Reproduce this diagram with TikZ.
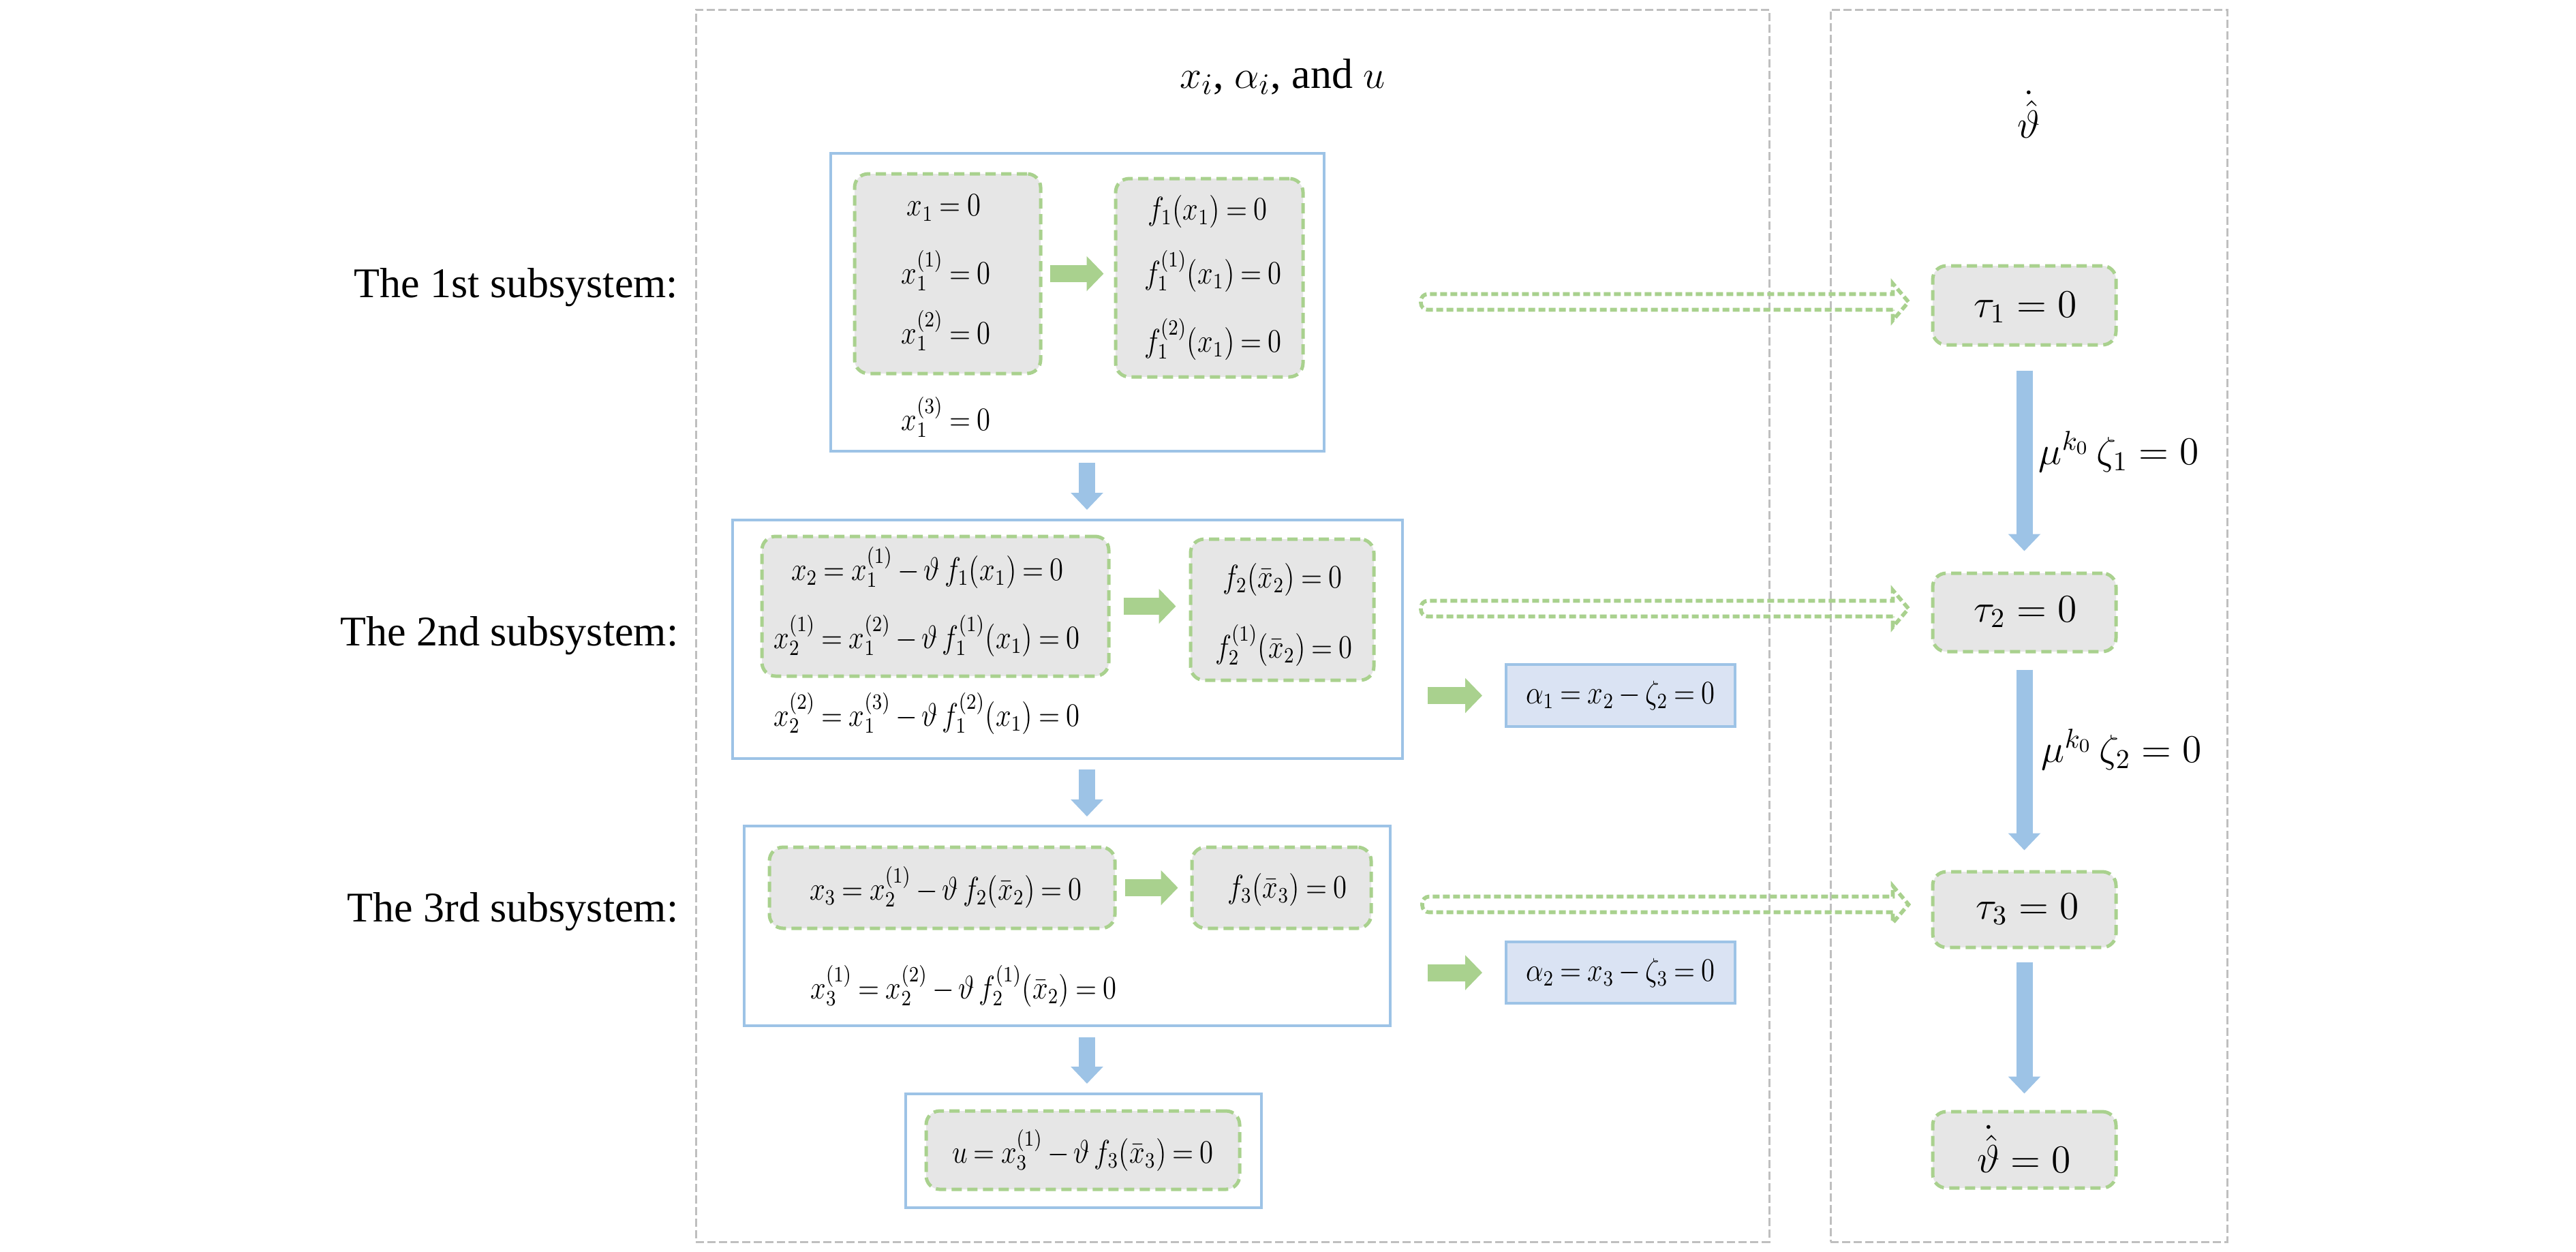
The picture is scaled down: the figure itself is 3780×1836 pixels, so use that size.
\documentclass[tikz,border=0pt]{standalone}
\usepackage{fontspec}
\usepackage{graphicx}
\setmainfont{Liberation Serif}
\usetikzlibrary{arrows.meta,calc,fit}
\definecolor{panelgray}{HTML}{BFBFBF}
\definecolor{boxblue}{HTML}{9DC3E6}
\definecolor{dgreen}{HTML}{A9D18E}
\definecolor{boxgray}{HTML}{E6E6E6}
\definecolor{alphablue}{HTML}{DAE3F3}
\newcommand\eqn[1]{\scalebox{0.85}[1]{$\thickmuskip=4mu\medmuskip=3mu #1$}}
\newcommand\hollowarrow[2]{%
  \draw[dasharrow] let \p1=(#1), \p2=(#2) in
    [rounded corners=2.5pt] (\x2-5.75pt,\y1-2.875pt) -- (\x1,\y1-2.875pt) -- (\x1,\y1+2.875pt)
    [sharp corners] -- (\x2-5.75pt,\y1+2.875pt) -- (\x2-5.75pt,\y1+6.75pt) -- (\x2,\y1)
    -- (\x2-5.75pt,\y1-6.75pt) -- cycle;}
\begin{document}
\begin{tikzpicture}[x=0.25pt,y=-0.25pt,
  panel/.style={draw=panelgray, line width=0.75pt, dash pattern=on 3pt off 1.25pt, inner sep=0pt},
  bluebox/.style={draw=boxblue, line width=1pt, inner sep=0pt},
  alphabox/.style={bluebox, fill=alphablue},
  graybox/.style={draw=dgreen, fill=boxgray, line width=1.25pt, dash pattern=on 3.75pt off 2pt, rounded corners=5pt, inner sep=0pt},
  garrow/.style={draw=dgreen, line width=6.25pt, -{Triangle[width=12.5pt,length=6.25pt]}},
  barrow/.style={draw=boxblue, line width=6pt, -{Triangle[width=11.5pt,length=6.25pt]}},
  dasharrow/.style={draw=dgreen, line width=1.4pt, dash pattern=on 2.5pt off 1.25pt},
  eqs/.style={font=\fontsize{11.5}{14}\selectfont, inner sep=0pt},
  eqb/.style={font=\fontsize{14}{17}\selectfont, inner sep=0pt},
  lab/.style={font=\fontsize{15.5}{18}\selectfont, inner sep=0pt}]
\useasboundingbox (0,0) rectangle (3780,1836);
\fill[white] (0,0) rectangle (3780,1836);

% panels
\node[panel, fit={(1021,14) (2596,1822)}] (lp) {};
\node[panel, fit={(2686,14) (3268,1822)}] (rp) {};
\node[lab] (title) at (1882,113) {$x_i$, $\alpha_i$, and $u$};
\node[lab] (thdot) at (2977,168) {$\dot{\hat{\vartheta}}$};

% left labels
\node[lab, anchor=east] (l1) at (996,422) {The 1st subsystem:};
\node[lab, anchor=east] (l2) at (996,933) {The 2nd subsystem:};
\node[lab, anchor=east] (l3) at (996,1338) {The 3rd subsystem:};

% subsystem 1
\node[bluebox, fit={(1219,225) (1943,662)}] (b1) {};
\node[graybox, fit={(1254,255) (1527,548)}] (g1a) {};
\node[graybox, fit={(1637,262) (1912,553)}] (g1b) {};
\node[eqs] (t1a) at (1385,305) {\eqn{x_1 = 0}};
\node[eqs] (t1b) at (1388,397) {\eqn{x_1^{(1)} = 0}};
\node[eqs] (t1c) at (1388,485) {\eqn{x_1^{(2)} = 0}};
\node[eqs] (t1d) at (1388,612) {\eqn{x_1^{(3)} = 0}};
\node[eqs] (t1e) at (1772,310) {\eqn{f_1(x_1) = 0}};
\node[eqs] (t1f) at (1780,398) {\eqn{f_1^{(1)}(x_1) = 0}};
\node[eqs] (t1g) at (1780,498) {\eqn{f_1^{(2)}(x_1) = 0}};
\draw[garrow, shorten <=2.75pt, shorten >=3.75pt] (g1a.east) -- (g1a.east -| g1b.west);

% subsystem 2
\node[bluebox, fit={(1075,763) (2058,1113)}] (b2) {};
\node[graybox, fit={(1118,787) (1627,992)}] (g2a) {};
\node[graybox, fit={(1747,791) (2016,998)}] (g2b) {};
\node[eqs] (t2a) at (1361,833) {\eqn{x_2 = x_1^{(1)} - \vartheta\, f_1(x_1) = 0}};
\node[eqs] (t2b) at (1360,933) {\eqn{x_2^{(1)} = x_1^{(2)} - \vartheta\, f_1^{(1)}(x_1) = 0}};
\node[eqs] (t2c) at (1360,1047) {\eqn{x_2^{(2)} = x_1^{(3)} - \vartheta\, f_1^{(2)}(x_1) = 0}};
\node[eqs] (t2d) at (1882,850) {\eqn{f_2(\bar{x}_2) = 0}};
\node[eqs] (t2e) at (1884,947) {\eqn{f_2^{(1)}(\bar{x}_2) = 0}};
\draw[garrow, shorten <=4.75pt, shorten >=4.75pt] (g2a.east) -- (g2a.east -| g2b.west);
\node[alphabox, fit={(2210,975) (2546,1066)}] (al1) {};
\node[eqs] (t2f) at (al1.center) {\eqn{\alpha_1 = x_2 - \zeta_2 = 0}};
\draw[garrow, shorten <=8.75pt, shorten >=8.25pt] (al1.west -| b2.east) -- (al1.west);

% subsystem 3
\node[bluebox, fit={(1092,1212) (2040,1505)}] (b3) {};
\node[graybox, fit={(1129,1243) (1636,1362)}] (g3a) {};
\node[graybox, fit={(1749,1243) (2012,1362)}] (g3b) {};
\node[eqs] (t3a) at (1388,1302) {\eqn{x_3 = x_2^{(1)} - \vartheta\, f_2(\bar{x}_2) = 0}};
\node[eqs] (t3b) at (1889,1305) {\eqn{f_3(\bar{x}_3) = 0}};
\node[eqs] (t3c) at (1414,1447) {\eqn{x_3^{(1)} = x_2^{(2)} - \vartheta\, f_2^{(1)}(\bar{x}_2) = 0}};
\draw[garrow, shorten <=3pt, shorten >=4.5pt] (g3a.east) -- (g3a.east -| g3b.west);
\node[alphabox, fit={(2210,1382) (2546,1472)}] (al2) {};
\node[eqs] (t3d) at (al2.center) {\eqn{\alpha_2 = x_3 - \zeta_3 = 0}};
\draw[garrow, shorten <=13.25pt, shorten >=8.25pt] (al2.west -| b3.east) -- (al2.west);

% control u
\node[bluebox, fit={(1329,1605) (1851,1772)}] (bu) {};
\node[graybox, fit={(1359,1630) (1819,1745)}] (gu) {};
\node[eqs] (tu) at (1589,1688) {\eqn{u = x_3^{(1)} - \vartheta\, f_3(\bar{x}_3) = 0}};

% down arrows (left)
\coordinate (ax) at (1595,0);
\draw[barrow, shorten <=3.75pt, shorten >=3.25pt] (b1.south -| ax) -- (b2.north -| ax);
\draw[barrow, shorten <=3.5pt, shorten >=3pt] (b2.south -| ax) -- (b3.north -| ax);
\draw[barrow, shorten <=3.75pt, shorten >=3.25pt] (b3.south -| ax) -- (bu.north -| ax);

% right column
\node[graybox, fit={(2836,390) (3105,506)}] (tau1) {};
\node[graybox, fit={(2836,841) (3105,956)}] (tau2) {};
\node[graybox, fit={(2836,1279) (3105,1390)}] (tau3) {};
\node[graybox, fit={(2836,1631) (3105,1743)}] (thb) {};
\node[eqb] (ttau1) at (2972,451) {$\tau_1 = 0$};
\node[eqb] (ttau2) at (2972,898) {$\tau_2 = 0$};
\node[eqb] (ttau3) at (2975,1334) {$\tau_3 = 0$};
\node[eqb] (tth) at (2970,1686) {$\dot{\hat{\vartheta}} = 0$};
\draw[barrow, shorten <=8.75pt, shorten >=7.5pt] (tau1.south) -- (tau2.north);
\draw[barrow, shorten <=6pt, shorten >=7.25pt] (tau2.south) -- (tau3.north);
\draw[barrow, shorten <=4.75pt, shorten >=6pt] (tau3.south) -- (thb.north);
\node[eqb, anchor=west] (mu1) at (2991,663) {$\mu^{k_0}\,\zeta_1 = 0$};
\node[eqb, anchor=west] (mu2) at (2995,1100) {$\mu^{k_0}\,\zeta_2 = 0$};

% hollow dashed arrows
\coordinate (s1) at (2085,443);
\coordinate (s2) at (2085,893);
\coordinate (s3) at (2087,1327);
\coordinate (e1) at ($(tau1.west)+(-33,0)$);
\coordinate (e2) at ($(tau2.west)+(-33,0)$);
\coordinate (e3) at ($(tau3.west)+(-33,0)$);
\hollowarrow{s1}{e1}
\hollowarrow{s2}{e2}
\hollowarrow{s3}{e3}
\end{tikzpicture}
\end{document}
